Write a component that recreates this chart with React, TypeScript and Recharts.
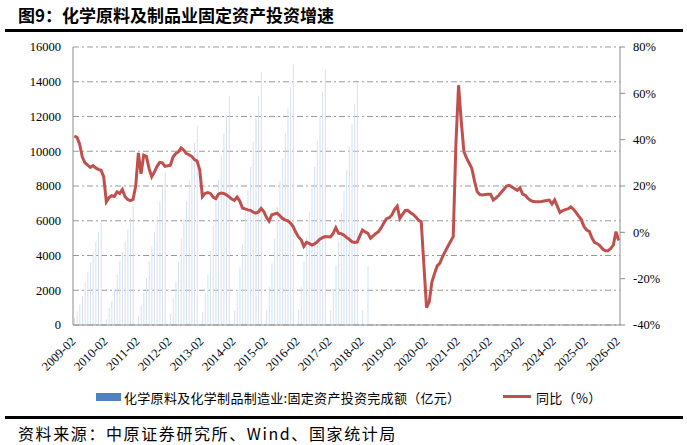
import { Bar, CartesianGrid, ComposedChart, Line, XAxis, YAxis } from "recharts";

// 固定资产投资完成额（亿元），每年 2 月至 12 月累计值
const barYears = [2009, 2010, 2011, 2012, 2013, 2014, 2015, 2016, 2017, 2018];
const barValues: (number | null)[][] = [
  [400, 770, 1200, 1670, 2470, 3070, 3590, 4220, 4800, 5370, 5950],
  [330, 980, 1380, 2000, 2880, 3680, 4200, 4850, 5470, 6150, 6850],
  [500, 1170, 1840, 2700, 3680, 4530, 5350, 6215, 7140, 7940, 8800],
  [650, 1570, 2510, 3625, 5000, 6120, 7140, 8330, 9480, 10470, 11490],
  [765, 1830, 2970, 4270, 5750, 7120, 8350, 9750, 11000, 12100, 13200],
  [820, 2015, 3320, 4660, 6520, 7770, 9110, 10550, 11900, 13180, 14580],
  [860, 2170, 3550, 4990, 6810, 8305, 9590, 11070, 12470, 13715, 15000],
  [900, 2170, 3650, 5080, 6520, 7870, 9110, 10600, 12030, 13430, 14720],
  [845, 2090, 3435, 4775, 6465, 7710, 8900, 10300, 11550, 12740, 13930],
  [850, null, 3400],
];

// 同比（%），每年 2 月 … 12 月，以及次年 1 月
const lineYears = [2009, 2010, 2011, 2012, 2013, 2014, 2015, 2016, 2017, 2018, 2019, 2020, 2021, 2022, 2023, 2024, 2025];
const lineValues: number[][] = [
  [41.6, 41, 38, 32.5, 30, 29, 28, 28.8, 27.8, 27.2, 26.8, 24],
  [13.2, 15, 15.8, 15.5, 17.5, 16.8, 18.5, 15.4, 14.2, 13.7, 14.2, 20],
  [34.3, 25.3, 33.3, 32.8, 27.5, 24, 26, 28.5, 30.2, 30, 28.5, 28.7],
  [29, 32.5, 34, 34.7, 36.4, 35.5, 34, 33.5, 32.8, 31.4, 30.8, 27],
  [15.4, 16.8, 17.2, 16.8, 15.2, 14.5, 16.5, 17, 16.8, 16.2, 15.3, 14.4],
  [13.8, 15.2, 13.5, 10.5, 10.1, 9.7, 9.5, 8.7, 8.3, 8.8, 10.3, 9],
  [6.5, 4.8, 7.6, 7.9, 8.3, 7.2, 6, 5.4, 5, 4, 2.5, 0],
  [-2, -3.2, -6, -4.3, -4.8, -5.5, -5, -4.1, -3, -2.3, -1.8, -1.9],
  [-2, -0.5, 2, -0.4, -0.6, -1.2, -2.2, -3, -4, -4.4, -4.2, -1.5],
  [1, 0.2, -0.4, -2.5, -1.5, -0.5, 0.3, 2, 4, 5.9, 6.3, 7.5],
  [9.8, 11.3, 6, 7.8, 9.4, 9.5, 8.4, 7.7, 6.6, 5.2, 4.6, -14],
  [-32.5, -30, -21.5, -17.8, -14.5, -13.3, -10.5, -8.2, -6, -4, -1.8, 38],
  [63.5, 48, 34.8, 32, 29.8, 27.5, 22, 17.5, 16.3, 16.1, 16.3, 16.4],
  [16.4, 14, 14.8, 15.9, 17.3, 18.6, 20, 20.3, 19.6, 18.8, 18.1, 19.2],
  [16.5, 16, 14.6, 13.8, 13.3, 13.2, 13.2, 13.3, 13.5, 13.7, 13.9, 12.2],
  [14, 11.3, 8.6, 9.4, 9.8, 10.1, 11, 10, 8.6, 7, 5.5, 2.5],
  [1, 0.4, -2.5, -4.4, -4.9, -5.8, -7.2, -8, -8, -7, -5.5, 0.3],
];
const lastLabel = "2026-02";
const lastValue = -3.5;

const xTicks = [...lineYears.map((y) => `${y}-02`), lastLabel];
const leftTicks = [0, 2000, 4000, 6000, 8000, 10000, 12000, 14000, 16000];
const rightTicks = [-40, -20, 0, 20, 40, 60, 80];

const pad = (m: number) => (m < 10 ? `0${m}` : `${m}`);

const data: { month: string; bar: number | null; yoy: number | null }[] = [];
lineYears.forEach((y, k) => {
  const bars = barValues[barYears.indexOf(y)] || [];
  for (let m = 2; m <= 12; m++) {
    data.push({ month: `${y}-${pad(m)}`, bar: bars[m - 2] ?? null, yoy: lineValues[k][m - 2] });
  }
  data.push({ month: `${y + 1}-01`, bar: null, yoy: lineValues[k][11] });
});
data.push({ month: lastLabel, bar: null, yoy: lastValue });

const serif = "'Liberation Serif', 'Times New Roman', serif";
const cjk = "'Noto Sans CJK SC', sans-serif";
const axisGray = "#8c8c8c";

function XTick(props: any) {
  const { x, y, payload } = props;
  const tx = x + 2;
  const ty = y + 9;
  return (
    <text x={tx} y={ty} transform={`rotate(-45 ${tx} ${ty})`} textAnchor="end" fontSize={12.5} fontFamily={serif} fill="#000">
      {payload.value}
    </text>
  );
}

export default function App() {
  return (
    <div style={{ position: "absolute", left: 0, top: 0, width: 687, height: 445, background: "#fff", overflow: "hidden" }}>
      <div style={{ position: "absolute", left: 18, top: 2, fontSize: 17, fontWeight: 700, fontFamily: cjk, color: "#000", whiteSpace: "nowrap" }}>
        图9：化学原料及制品业固定资产投资增速
      </div>
      <div style={{ position: "absolute", left: 5, top: 29, width: 678, height: 3, background: "#000" }} />

      <div style={{ position: "absolute", left: 0, top: 0 }}>
        <ComposedChart width={687} height={445} data={data} margin={{ top: 47, right: 0, bottom: 70, left: 0 }}>
          <CartesianGrid yAxisId="left" vertical={false} stroke="#9a9a9a" strokeDasharray="6 3 2 3" />
          <XAxis
            dataKey="month"
            ticks={xTicks}
            interval={0}
            tick={<XTick />}
            tickLine={false}
            axisLine={{ stroke: axisGray }}
            height={50}
          />
          <YAxis
            yAxisId="left"
            domain={[0, 16000]}
            ticks={leftTicks}
            interval={0}
            width={73}
            tickLine={false}
            tickSize={0}
            tickMargin={12}
            axisLine={{ stroke: axisGray }}
            tick={{ fontSize: 12.5, fontFamily: serif, fill: "#000" }}
          />
          <YAxis
            yAxisId="right"
            orientation="right"
            domain={[-40, 80]}
            ticks={rightTicks}
            interval={0}
            width={67}
            tickSize={5}
            tickMargin={8}
            tickLine={{ stroke: axisGray }}
            axisLine={{ stroke: axisGray }}
            tickFormatter={(v: number) => `${v}%`}
            tick={{ fontSize: 12.5, fontFamily: serif, fill: "#000" }}
          />
          <Bar yAxisId="left" dataKey="bar" fill="#d5e0f0" barSize={1} isAnimationActive={false} />
          <Line
            yAxisId="right"
            dataKey="yoy"
            type="linear"
            stroke="#c0504d"
            strokeWidth={3}
            dot={false}
            connectNulls
            isAnimationActive={false}
          />
        </ComposedChart>
      </div>

      <div style={{ position: "absolute", left: 96, top: 393, width: 25, height: 8, background: "#4f81bd" }} />
      <div style={{ position: "absolute", left: 124, top: 388, fontSize: 13, fontFamily: cjk, color: "#000", whiteSpace: "nowrap", letterSpacing: 0.3 }}>
        化学原料及化学制品制造业:固定资产投资完成额（亿元）
      </div>
      <div style={{ position: "absolute", left: 503, top: 395, width: 28, height: 3, background: "#c0504d" }} />
      <div style={{ position: "absolute", left: 536, top: 388, fontSize: 13, fontFamily: cjk, color: "#000", whiteSpace: "nowrap", letterSpacing: 0.3 }}>
        同比（%）
      </div>

      <div style={{ position: "absolute", left: 5, top: 416, width: 678, height: 3, background: "#000" }} />
      <div style={{ position: "absolute", left: 18, top: 421, fontSize: 16, fontFamily: cjk, color: "#000", whiteSpace: "nowrap", letterSpacing: 1.6 }}>
        资料来源：中原证券研究所、Wind、国家统计局
      </div>
    </div>
  );
}
